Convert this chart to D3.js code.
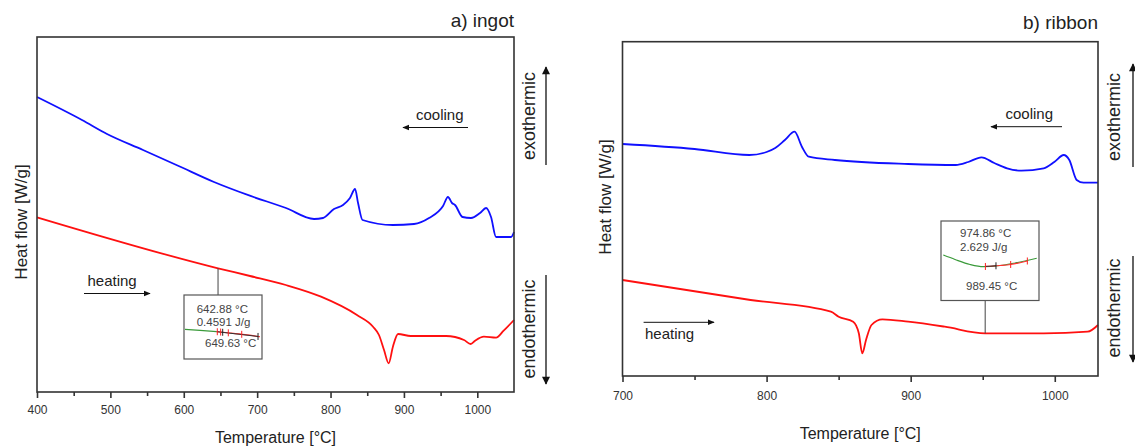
<!DOCTYPE html>
<html><head><meta charset="utf-8">
<script src="https://cdn.jsdelivr.net/npm/d3@7"></script>
<style>body{margin:0;background:#fff} svg{display:block} text{font-family:"Liberation Sans",Arial,sans-serif}</style>
</head><body><svg id="c" width="1135" height="448"></svg>
<script>
// ---------- data ----------
// a) ingot, cooling (blue)
const ingotCoolT  = [400, 461.3, 495.4, 544.5, 593, 641.2, 690, 739.3, 777.5, 789.7, 804.7, 817, 826.5, 833.4, 837.5, 843.6, 885, 913.8, 934.2, 953.3, 960, 965.5, 969.6, 979.9, 991.4, 1003.7, 1011.9, 1018.7, 1025.5, 1046, 1050];
const ingotCoolHF = [2.95, 2.72, 2.58, 2.42, 2.26, 2.10, 1.963, 1.84, 1.73, 1.74, 1.83, 1.87, 1.94, 2.03, 1.89, 1.72, 1.67, 1.68, 1.74, 1.86, 1.95, 1.89, 1.87, 1.75, 1.74, 1.79, 1.84, 1.75, 1.55, 1.55, 1.60];
// a) ingot, heating (red)
const ingotHeatT  = [400, 646.7, 690.3, 739, 787, 836, 857.9, 866, 872.9, 879.2, 885, 892, 909.3, 957.4, 981.9, 991, 997, 1009, 1025.5, 1035.9, 1050];
const ingotHeatHF = [1.747, 1.237, 1.16, 1.07, 0.953, 0.77, 0.653, 0.57, 0.42, 0.287, 0.453, 0.58, 0.56, 0.56, 0.52, 0.48, 0.513, 0.553, 0.543, 0.613, 0.72];
// b) ribbon, cooling (blue)
const ribbonCoolT  = [700, 750, 788, 800, 806, 812.7, 819.4, 824.5, 829.3, 847.4, 898.3, 931.3, 940, 949.1, 958, 966.9, 977, 992.3, 999.9, 1006.2, 1010.1, 1015.2, 1020, 1030];
const ribbonCoolHF = [2.32, 2.27, 2.21, 2.24, 2.28, 2.36, 2.443, 2.293, 2.193, 2.16, 2.12, 2.11, 2.14, 2.187, 2.13, 2.077, 2.053, 2.077, 2.143, 2.21, 2.16, 1.96, 1.933, 1.933];
// b) ribbon, heating (red)
const ribbonHeatT  = [700, 788.9, 844.6, 850, 860.1, 864, 866.4, 869, 872.8, 880.4, 898.3, 923.6, 951.7, 992.3, 1022.8, 1030];
const ribbonHeatHF = [0.96, 0.76, 0.643, 0.593, 0.543, 0.427, 0.227, 0.36, 0.51, 0.567, 0.543, 0.493, 0.427, 0.427, 0.443, 0.51];

// tick values
const ingotTicks  = [400, 500, 600, 700, 800, 900, 1000];
const ingotMinor  = [450, 550, 650, 750, 850, 950];
const ribbonTicks = [700, 800, 900, 1000];
const ribbonMinor = [750, 850, 950];

// inset (peak evaluation) data, local units 0..100
const ingotInsetGreenU = [1.3, 20.5, 41.9];
const ingotInsetGreenV = [46.4, 44.8, 42.7];
const ingotInsetRedU = [41.9, 59, 78.2, 97.4];
const ingotInsetRedV = [42.7, 40.6, 38, 34.8];
const ingotInsetRedTicks = [42.7, 47, 56.8, 74];
const ingotInsetBlackTicks = [49.6, 94.9];
const ingotInsetTexts = ["642.88 °C", "0.4591 J/g", "649.63 °C"];
const ingotPeakT = 646.7;

const ribbonInsetGreenU = [2.3, 14.3, 29.6, 43.2, 60.2, 75.5, 97.7];
const ribbonInsetGreenV = [57.2, 51.6, 45.3, 42.5, 44, 47.2, 53.1];
const ribbonInsetRedU = [45.3, 60.2, 71.1, 88.1];
const ribbonInsetRedV = [42.8, 44, 45.3, 49.7];
const ribbonInsetRedTicks = [45.3, 71.1, 88.1];
const ribbonInsetBlackTicks = [56.1];
const ribbonInsetTexts = ["974.86 °C", "2.629 J/g", "989.45 °C"];
const ribbonPeakT = 951.7;

// ---------- drawing ----------
const svg = d3.select("#c");
svg.append("rect").attr("width",1135).attr("height",448).attr("fill","#fff");
const defs = svg.append("defs");
defs.append("marker").attr("id","ah").attr("viewBox","0 0 10 10").attr("refX",9).attr("refY",5)
  .attr("markerWidth",7).attr("markerHeight",7).attr("orient","auto-start-reverse").attr("markerUnits","userSpaceOnUse")
  .append("path").attr("d","M0,1 L10,5 L0,9 Z").attr("fill","#111");
defs.append("marker").attr("id","ahBig").attr("viewBox","0 0 10 10").attr("refX",9).attr("refY",5)
  .attr("markerWidth",14).attr("markerHeight",8).attr("orient","auto-start-reverse").attr("markerUnits","userSpaceOnUse")
  .append("path").attr("d","M0,0 L10,5 L0,10 Z").attr("fill","#111");

const zip = (a,b) => a.map((v,i)=>[v,b[i]]);

function panel(cfg){
  const x = d3.scaleLinear().domain(cfg.xDomain).range([cfg.x0, cfg.x1]);
  const y = d3.scaleLinear().domain(cfg.yDomain).range([cfg.y1, cfg.y0]);
  const g = svg.append("g");
  const line = d3.line().x(d=>x(d[0])).y(d=>y(d[1])).curve(d3.curveMonotoneX);

  g.append("path").datum(zip(cfg.coolT,cfg.coolHF)).attr("d",line).attr("fill","none").attr("stroke","#1010ff").attr("stroke-width",1.8);
  g.append("path").datum(zip(cfg.heatT,cfg.heatHF)).attr("d",line).attr("fill","none").attr("stroke","#ff1010").attr("stroke-width",1.8);

  // frame
  g.append("rect").attr("x",cfg.x0).attr("y",cfg.y0).attr("width",cfg.x1-cfg.x0).attr("height",cfg.y1-cfg.y0)
    .attr("fill","none").attr("stroke","#333").attr("stroke-width",1.6);

  // axes
  const ax = g.append("g").attr("transform",`translate(0,${cfg.y1})`)
    .call(d3.axisBottom(x).tickValues(cfg.ticks).tickSize(6).tickPadding(cfg.tickPad).tickFormat(d3.format("d")));
  const axm = g.append("g").attr("transform",`translate(0,${cfg.y1})`)
    .call(d3.axisBottom(x).tickValues(cfg.minor).tickSize(4).tickFormat(""));
  [ax,axm].forEach(a=>{a.select(".domain").remove(); a.selectAll("line").attr("stroke","#333").attr("stroke-width",1.6);});
  ax.selectAll("text").attr("font-size",12).attr("fill","#333").attr("font-family",'"Liberation Sans",Arial,sans-serif');

  // titles
  g.append("text").attr("x",(cfg.x0+cfg.x1)/2).attr("y",cfg.xTitleY).attr("text-anchor","middle")
    .attr("font-size",16).attr("fill","#222").text("Temperature [°C]");
  g.append("text").attr("transform",`translate(${cfg.yTitleX},${cfg.yTitleY}) rotate(-90)`).attr("dy","0.35em")
    .attr("text-anchor","middle").attr("font-size",17).attr("fill","#222").text("Heat flow [W/g]");
  g.append("text").attr("x",cfg.x1).attr("y",cfg.panelTitleY).attr("text-anchor","end")
    .attr("font-size",19).attr("fill","#222").text(cfg.panelTitle);

  // exo/endo labels with arrows
  g.append("text").attr("transform",`translate(${cfg.sideX},${cfg.exoY}) rotate(-90)`).attr("dy","0.35em")
    .attr("text-anchor","middle").attr("font-size",18).attr("fill","#222").text("exothermic");
  g.append("text").attr("transform",`translate(${cfg.sideX},${cfg.endoY}) rotate(-90)`).attr("dy","0.35em")
    .attr("text-anchor","middle").attr("font-size",18).attr("fill","#222").text("endothermic");
  g.append("line").attr("x1",cfg.arrowX).attr("x2",cfg.arrowX).attr("y1",cfg.exoArrow[0]).attr("y2",cfg.exoArrow[1])
    .attr("stroke","#111").attr("stroke-width",1.3).attr("marker-end","url(#ahBig)");
  g.append("line").attr("x1",cfg.arrowX).attr("x2",cfg.arrowX).attr("y1",cfg.endoArrow[0]).attr("y2",cfg.endoArrow[1])
    .attr("stroke","#111").attr("stroke-width",1.3).attr("marker-end","url(#ahBig)");

  // cooling / heating labels
  g.append("text").attr("x",cfg.coolLbl[0]).attr("y",cfg.coolLbl[1]).attr("font-size",15).attr("fill","#222").text("cooling");
  g.append("line").attr("x1",cfg.coolArrow[0]).attr("x2",cfg.coolArrow[1]).attr("y1",cfg.coolArrow[2]).attr("y2",cfg.coolArrow[2])
    .attr("stroke","#111").attr("stroke-width",1).attr("marker-end","url(#ah)");
  g.append("text").attr("x",cfg.heatLbl[0]).attr("y",cfg.heatLbl[1]).attr("font-size",15).attr("fill","#222").text("heating");
  g.append("line").attr("x1",cfg.heatArrow[0]).attr("x2",cfg.heatArrow[1]).attr("y1",cfg.heatArrow[2]).attr("y2",cfg.heatArrow[2])
    .attr("stroke","#111").attr("stroke-width",1).attr("marker-end","url(#ah)");

  // inset
  const b = cfg.box;
  const iu = d3.scaleLinear().domain([0,100]).range([b[0], b[1]]);
  const iv = d3.scaleLinear().domain([0,100]).range([b[3], b[2]]);
  const px = x(cfg.peakT);
  const py = y(cfg.heatHF[cfg.heatT.indexOf(cfg.peakT)]);
  const boxEdge = cfg.boxAbove ? b[3] : b[2];
  g.append("line").attr("x1",px).attr("x2",px).attr("y1",py).attr("y2",boxEdge).attr("stroke","#444").attr("stroke-width",1);
  g.append("rect").attr("x",b[0]).attr("y",b[2]).attr("width",b[1]-b[0]).attr("height",b[3]-b[2])
    .attr("fill","#fff").attr("stroke","#555").attr("stroke-width",1.2);
  const il = d3.line().x(d=>iu(d[0])).y(d=>iv(d[1])).curve(d3.curveMonotoneX);
  g.append("path").datum(zip(cfg.igU,cfg.igV)).attr("d",il).attr("fill","none").attr("stroke","#3a9a3a").attr("stroke-width",1.2);
  g.append("path").datum(zip(cfg.irU,cfg.irV)).attr("d",il).attr("fill","none").attr("stroke","#ff3030").attr("stroke-width",1.2);
  const vAt = u => {
    const us = cfg.irU, vs = cfg.irV;
    for(let i=0;i<us.length-1;i++){ if(u>=us[i] && u<=us[i+1]){ const t=(u-us[i])/(us[i+1]-us[i]); return vs[i]+t*(vs[i+1]-vs[i]); } }
    return vs[vs.length-1];
  };
  const bt = cfg.iBlack.concat([cfg.irU[0]]).sort((a,c)=>a-c);
  g.append("line").attr("x1",iu(bt[0])).attr("x2",iu(bt[bt.length-1])).attr("y1",iv(vAt(bt[0]))).attr("y2",iv(vAt(bt[bt.length-1])))
    .attr("stroke","#333").attr("stroke-width",1);
  cfg.iRed.forEach(u=>g.append("line").attr("x1",iu(u)).attr("x2",iu(u)).attr("y1",iv(vAt(u))-3.5).attr("y2",iv(vAt(u))+3.5).attr("stroke","#ff2020").attr("stroke-width",1));
  cfg.iBlack.forEach(u=>{
    g.append("line").attr("x1",iu(u)).attr("x2",iu(u)).attr("y1",iv(vAt(u))-3.5).attr("y2",iv(vAt(u))+3.5).attr("stroke","#222").attr("stroke-width",1);
  });
  cfg.iText.forEach((t,i)=>g.append("text").attr("x",cfg.iTextPos[i][0]).attr("y",cfg.iTextPos[i][1])
    .attr("font-size",11.5).attr("fill","#444").text(t));
}

panel({
  xDomain:[400,1050], yDomain:[0,3.55], x0:37, x1:514, y0:37, y1:392,
  coolT:ingotCoolT, coolHF:ingotCoolHF, heatT:ingotHeatT, heatHF:ingotHeatHF,
  ticks:ingotTicks, minor:ingotMinor, tickPad:7,
  xTitleY:443, yTitleX:21, yTitleY:222, panelTitle:"a) ingot", panelTitleY:27,
  sideX:529, exoY:116, endoY:329, arrowX:546, exoArrow:[165,67], endoArrow:[275,384],
  coolLbl:[416,120], coolArrow:[468,403,127.5], heatLbl:[87.5,286], heatArrow:[84,150,293.5],
  box:[184,262,295,359], boxAbove:false, peakT:ingotPeakT,
  igU:ingotInsetGreenU, igV:ingotInsetGreenV, irU:ingotInsetRedU, irV:ingotInsetRedV,
  iRed:ingotInsetRedTicks, iBlack:ingotInsetBlackTicks, iText:ingotInsetTexts,
  iTextPos:[[196.7,313],[196.7,326],[205,347]]
});
panel({
  xDomain:[700,1030], yDomain:[0,3.343], x0:622.5, x1:1098, y0:41.7, y1:376,
  coolT:ribbonCoolT, coolHF:ribbonCoolHF, heatT:ribbonHeatT, heatHF:ribbonHeatHF,
  ticks:ribbonTicks, minor:ribbonMinor, tickPad:9,
  xTitleY:439, yTitleX:605, yTitleY:197, panelTitle:"b) ribbon", panelTitleY:29,
  sideX:1114, exoY:117, endoY:308, arrowX:1133, exoArrow:[167,64], endoArrow:[256,362],
  coolLbl:[1005.5,118.5], coolArrow:[1062,991,126.7], heatLbl:[645,339], heatArrow:[643.6,714,322.3],
  box:[941,1039,221,300.5], boxAbove:true, peakT:ribbonPeakT,
  igU:ribbonInsetGreenU, igV:ribbonInsetGreenV, irU:ribbonInsetRedU, irV:ribbonInsetRedV,
  iRed:ribbonInsetRedTicks, iBlack:ribbonInsetBlackTicks, iText:ribbonInsetTexts,
  iTextPos:[[960,237.3],[960,250.5],[966,290]]
});
</script></body></html>
